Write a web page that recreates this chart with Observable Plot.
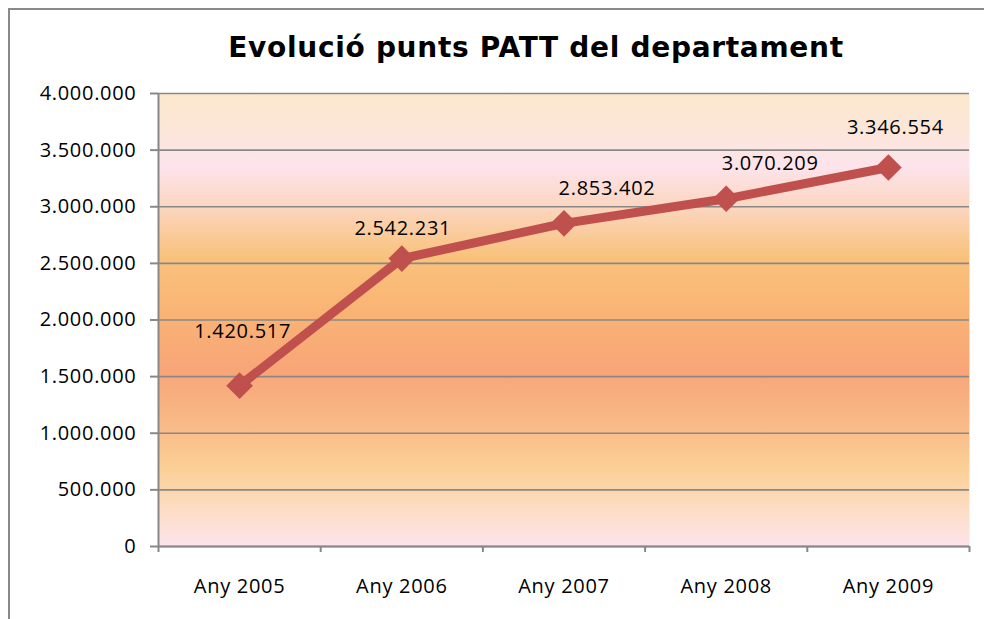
<!DOCTYPE html>
<html>
<head>
<meta charset="utf-8">
<script src="https://cdn.jsdelivr.net/npm/d3@7"></script>
<script src="https://cdn.jsdelivr.net/npm/@observablehq/plot@0.6"></script>
<style>
  html, body { margin: 0; padding: 0; background: #fff; }
  #wrap { position: relative; width: 984px; height: 619px; overflow: hidden; }
  #border { position: absolute; left: 8px; top: 8px; width: 1000px; height: 700px; border: 2px solid #8a8a8a; box-sizing: border-box; }
  #chart { position: absolute; left: 0; top: 0; }
</style>
</head>
<body>
<div id="wrap"><div id="border"></div><div id="chart"></div></div>
<script>
const title = "Evolució punts PATT del departament";
const categories = ["Any 2005", "Any 2006", "Any 2007", "Any 2008", "Any 2009"];
const values = [1420517, 2542231, 2853402, 3070209, 3346554];
const yTicks = [0, 500000, 1000000, 1500000, 2000000, 2500000, 3000000, 3500000, 4000000];
// label offsets (layout, px) relative to each point
const labelDx = [3, 1, 43, 44, 7];
const labelDy = [-54, -30, -35, -35, -40];

const data = categories.map((c, i) => ({i, c, v: values[i]}));
const fmt = d => d3.format(",")(d).replace(/,/g, ".");
const font = "'Open Sans', sans-serif";
const gridColor = "#888888";
const lineColor = "#c0504d";

const labelMarks = data.map((d, k) => Plot.text([d], {
  x: "i", y: "v", text: r => fmt(r.v),
  dx: labelDx[k], dy: labelDy[k],
  fontSize: 20, fill: "#000", fontFamily: font
}));

const chart = Plot.plot({
  width: 984,
  height: 619,
  marginLeft: 158,
  marginRight: 15,
  marginTop: 93,
  marginBottom: 73,
  style: {fontFamily: font, fontSize: "20px", color: "#000", background: "transparent", letterSpacing: "0.7px"},
  x: {type: "linear", domain: [-0.5, categories.length - 0.5]},
  y: {domain: [0, 4000000]},
  marks: [
    Plot.frame({fill: "url(#bgGrad)", stroke: null}),
    Plot.gridY(yTicks, {stroke: gridColor, strokeOpacity: 1, strokeWidth: 1.6}),
    Plot.ruleX([-0.5], {stroke: gridColor, strokeWidth: 2}),
    Plot.ruleY([0], {stroke: gridColor, strokeWidth: 2}),
    Plot.axisY(yTicks, {tickSize: 8, tickPadding: 14, tickFormat: fmt, stroke: gridColor, strokeWidth: 2, label: null, fontSize: 20, fill: "#000"}),
    Plot.axisX(d3.range(-0.5, categories.length, 1), {tickSize: 6, tickFormat: () => "", stroke: gridColor, strokeWidth: 2, label: null}),
    Plot.axisX(d3.range(categories.length), {tickSize: 0, tickPadding: 32, tickFormat: i => categories[i], label: null, fontSize: 20, fill: "#000"}),
    Plot.line(data, {x: "i", y: "v", stroke: lineColor, strokeWidth: 9, strokeLinejoin: "round"}),
    Plot.dot(data, {x: "i", y: "v", symbol: "diamond2", r: 12, fill: lineColor, stroke: "none"}),
    ...labelMarks,
    Plot.text([title], {frameAnchor: "top", dx: -28, dy: -56, fontSize: 28, fontWeight: "bold", fontFamily: "'DejaVu Sans', sans-serif", fill: "#000"})
  ]
});

// gradient definition for plot background
const ns = "http://www.w3.org/2000/svg";
const defs = document.createElementNS(ns, "defs");
const grad = document.createElementNS(ns, "linearGradient");
grad.setAttribute("id", "bgGrad");
grad.setAttribute("x1", "0"); grad.setAttribute("y1", "0");
grad.setAttribute("x2", "0"); grad.setAttribute("y2", "1");
const stops = [
  [0, "#fbe8cc"], [0.08, "#fce6d8"], [0.16, "#fde4ec"], [0.25, "#fbd6c0"],
  [0.36, "#f9c27c"], [0.48, "#f9b474"], [0.61, "#f8a578"], [0.74, "#f9bb88"],
  [0.83, "#fbd096"], [0.91, "#fcdcc0"], [1, "#fde4ec"]
];
for (const [o, c] of stops) {
  const s = document.createElementNS(ns, "stop");
  s.setAttribute("offset", o);
  s.setAttribute("stop-color", c);
  grad.appendChild(s);
}
defs.appendChild(grad);
chart.insertBefore(defs, chart.firstChild);
document.getElementById("chart").appendChild(chart);
</script>
</body>
</html>
